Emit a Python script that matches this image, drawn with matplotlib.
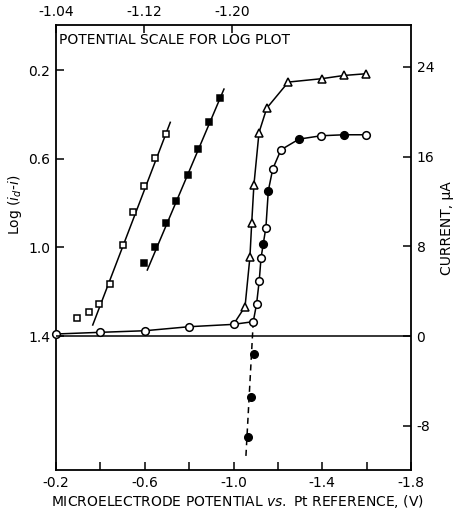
import matplotlib
matplotlib.use('Agg')
import matplotlib.pyplot as plt

# current-potential curves (bottom axis V, right axis uA)
base_v = [-0.20, -0.40, -0.60, -0.80, -1.00]
base_i = [0.18, 0.33, 0.47, 0.83, 1.04]

circ_v = [-1.089, -1.104, -1.116, -1.124, -1.134, -1.146, -1.157, -1.177,
          -1.214, -1.295, -1.394, -1.498, -1.596]
circ_i = [1.28, 2.86, 4.94, 6.94, 8.21, 9.67, 12.97, 14.91, 16.61, 17.56,
          17.86, 17.95, 17.95]
circ_filled = [False, False, False, False, True, False, True, False, False,
               True, False, True, False]

tri_v = [-1.052, -1.074, -1.082, -1.092, -1.115, -1.150, -1.247, -1.397,
         -1.498, -1.596]
tri_i = [2.62, 7.03, 10.06, 13.48, 18.15, 20.33, 22.65, 22.95, 23.24, 23.39]

neg_v = [-1.092, -1.077, -1.067]
neg_i = [-1.64, -5.42, -8.99]
dash_v = [-1.089, -1.055]
dash_i = [1.28, -11.07]

# log plot (top axis V, left axis log(id-i))
osq_v = [-1.0594, -1.0697, -1.0791, -1.0894, -1.1006, -1.110, -1.120, -1.130, -1.1397]
osq_y = [1.320, 1.293, 1.254, 1.164, 0.988, 0.840, 0.723, 0.596, 0.490]
osq_fit_v = [-1.0734, -1.1439]
osq_fit_y = [1.350, 0.436]

fsq_v = [-1.1203, -1.1297, -1.1397, -1.1494, -1.1597, -1.1694, -1.1794, -1.1891]
fsq_y = [1.069, 0.998, 0.890, 0.790, 0.674, 0.555, 0.433, 0.326]
fsq_fit_v = [-1.123, -1.1927]
fsq_fit_y = [1.102, 0.286]

bot_ticks = [-0.2, -0.4, -0.6, -0.8, -1.0, -1.2, -1.4, -1.6, -1.8]
bot_labels = ['-0.2', '', '-0.6', '', '-1.0', '', '-1.4', '', '-1.8']
right_ticks = [24, 16, 8, 0, -8]
left_ticks = [0.2, 0.6, 1.0, 1.4]
top_ticks = [-1.04, -1.12, -1.20]

lw = 1.1
fs = 10

fig = plt.figure(figsize=(4.57, 5.12), dpi=100)
rect = [56 / 457, 42 / 512, 355 / 457, 445 / 512]
ax = fig.add_axes(rect)
ax.set_xlim(-0.2, -1.8)
ax.set_ylim(-11.95, 27.74)

ax.axhline(0, color='black', lw=lw)
ax.plot(base_v + circ_v, base_i + circ_i, color='black', lw=lw, zorder=3)
ax.plot([base_v[-1]] + tri_v, [base_i[-1]] + tri_i, color='black', lw=lw, zorder=3)
ax.plot(dash_v, dash_i, color='black', lw=lw, ls=(0, (4, 3)), zorder=3)

ax.plot(base_v, base_i, 'o', ms=5.5, mfc='white', mec='black', mew=1.1,
        zorder=4, clip_on=False)
for v, i, f in zip(circ_v, circ_i, circ_filled):
    ax.plot(v, i, 'o', ms=5.5, mfc='black' if f else 'white', mec='black',
            mew=1.1, zorder=4)
ax.plot(tri_v, tri_i, '^', ms=5.5, mfc='white', mec='black', mew=1.1, zorder=4)
ax.plot(neg_v, neg_i, 'o', ms=5.5, mfc='black', mec='black', zorder=4)

ax.set_xticks(bot_ticks)
ax.set_xticklabels(bot_labels, fontsize=fs)
ax.yaxis.tick_right()
ax.set_yticks(right_ticks)
ax.set_yticklabels([str(t) for t in right_ticks], fontsize=fs)
ax.tick_params(direction='in', length=6, width=1.1, pad=4)
for s in ax.spines.values():
    s.set_linewidth(1.3)

ax2 = fig.add_axes(rect, frameon=False)
ax2.patch.set_alpha(0)
ax2.set_xlim(-1.04, -1.04 - 355 / 1100)
ax2.set_ylim(2.004, -0.003)
ax2.plot(osq_fit_v, osq_fit_y, color='black', lw=lw)
ax2.plot(fsq_fit_v, fsq_fit_y, color='black', lw=lw)
ax2.plot(osq_v, osq_y, 's', ms=4.5, mfc='white', mec='black', mew=1.1)
ax2.plot(fsq_v, fsq_y, 's', ms=4.5, mfc='black', mec='black', mew=1.1)
ax2.xaxis.tick_top()
ax2.yaxis.tick_left()
ax2.set_xticks(top_ticks)
ax2.set_xticklabels(['%.2f' % t for t in top_ticks], fontsize=fs)
ax2.set_yticks(left_ticks)
ax2.set_yticklabels(['%.1f' % t for t in left_ticks], fontsize=fs)
ax2.tick_params(direction='in', length=6, width=1.1, pad=4)

ax2.text(0.008, 0.966, 'POTENTIAL SCALE FOR LOG PLOT', transform=ax2.transAxes,
         fontsize=fs, va='center', ha='left')

# axis titles placed in figure pixels
fig.text(237 / 457, 1 - 502 / 512,
         'MICROELECTRODE POTENTIAL $\\it{vs.}$ Pt REFERENCE, (V)',
         fontsize=fs, ha='center', va='center')
fig.text(447 / 457, 1 - 228 / 512, 'CURRENT, \u03bcA', fontsize=fs,
         rotation=90, ha='center', va='center')
fig.text(15 / 457, 1 - 205 / 512, 'Log ($i_d$-$i$)', fontsize=fs,
         rotation=90, ha='center', va='center')

fig.savefig('out.png', dpi=100)
